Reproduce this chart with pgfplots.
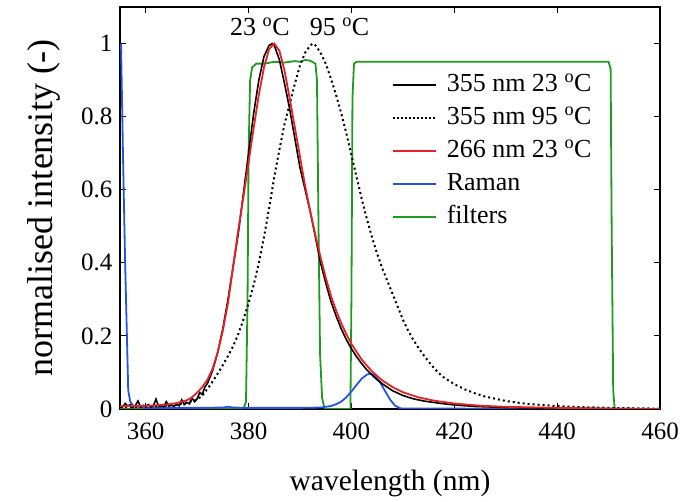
\documentclass[border=0pt]{standalone}
\usepackage{fontspec}
\setmainfont{Liberation Serif}
\newfontfamily\tickfont{Liberation Serif}
\usepackage{pgfplots}
\pgfplotsset{compat=1.18}
\definecolor{cred}{RGB}{232,32,36}
\definecolor{cblue}{RGB}{36,84,230}
\definecolor{cgreen}{RGB}{30,155,30}
\pgfplotsset{
  mylegline/.style={legend image code/.code={\draw[##1] (0pt,0pt) -- (43pt,0pt);}},
}
\begin{document}
\begin{tikzpicture}
\begin{axis}[
  scale only axis, width=540pt, height=402pt,
  xmin=355, xmax=460, ymin=0, ymax=1.1,
  xtick={360,380,400,420,440,460},
  xticklabels={360,380,400,420,440,460},
  ytick={0,0.2,0.4,0.6,0.8,1},
  yticklabels={0,0.2,0.4,0.6,0.8,1},
  tick align=inside, major tick length=6pt,
  every tick/.style={black, line width=1pt},
  axis line style={line width=1.3pt},
  xticklabel style={font=\tickfont\fontsize{25}{25}\selectfont, yshift=-10pt},
  yticklabel style={font=\tickfont\fontsize{25}{25}\selectfont, xshift=-4pt},
  xlabel={wavelength (nm)}, ylabel={normalised intensity (-)},
  xlabel style={font=\fontsize{29.5}{30}\selectfont, yshift=-24pt},
  ylabel style={font=\fontsize{36}{36}\selectfont, yshift=14pt},
  legend cell align=left,
  legend style={draw=none, fill=none, inner sep=0pt,
    at={(0.5037,0.836)}, anchor=north west,
    font=\fontsize{26}{26}\selectfont,
    nodes={inner sep=0pt, text height=18pt, text depth=6pt},
    row sep=9pt, column sep=10pt},
]
\addlegendimage{mylegline, black, line width=1.6pt}
\addlegendentry{355 nm 23 \textsuperscript{o}C}
\addlegendimage{mylegline, black, line width=1.6pt, dash pattern=on 1.6pt off 2.4pt}
\addlegendentry{355 nm 95 \textsuperscript{o}C}
\addlegendimage{mylegline, cred, line width=1.6pt}
\addlegendentry{266 nm 23 \textsuperscript{o}C}
\addlegendimage{mylegline, cblue, line width=1.6pt}
\addlegendentry{Raman}
\addlegendimage{mylegline, cgreen, line width=1.6pt}
\addlegendentry{filters}

% filters
\addplot[cgreen, line width=1.8pt, forget plot] coordinates {
(355,0) (379.0,0) (379.5,0.02) (379.8,0.3) (380.0,0.7) (380.3,0.9) (380.7,0.935)
(381.5,0.945) (383,0.945) (385,0.95) (387,0.948) (389,0.952) (390,0.95) (391,0.955)
(392,0.953) (393,0.945) (393.3,0.9) (393.6,0.5) (393.9,0.15) (394.3,0.03) (394.8,0)
(399.8,0) (400.0,0.3) (400.2,0.85) (400.5,0.945) (401,0.95) (450,0.95) (450.4,0.93)
(450.6,0.5) (450.9,0.05) (451.2,0) (460,0)};

% Raman
\addplot[cblue, line width=1.8pt, forget plot] coordinates {
(355.2,1.0) (355.6,0.68) (356.0,0.4) (356.6,0.05) (357.0,0.02) (357.6,0.008)
(360,0.003) (370,0.003) (375,0.004) (376,0.006) (377,0.004) (380,0.003) (390,0.003)
(394,0.004) (396,0.008) (397,0.013) (398,0.02) (399,0.032) (400,0.048) (401,0.066)
(402,0.083) (403,0.094) (403.7,0.097) (404.5,0.092) (405.5,0.075) (406.5,0.05)
(407.5,0.026) (408.5,0.009) (409.5,0.002) (410,0.001) (420,0.001) (460,0)};

% 355 nm 95 C
\addplot[black, line width=2pt, dash pattern=on 2pt off 3pt, forget plot] coordinates {
(355,0.005) (360,0.006) (364,0.009) (366,0.012) (368,0.018) (370,0.025) (371,0.037)
(372,0.055) (373,0.075) (374,0.097) (375,0.12) (376,0.145) (377,0.172) (378,0.205)
(379,0.245) (380,0.29) (381,0.34) (382,0.40) (383,0.47) (384,0.55) (385,0.635)
(386,0.71) (387,0.78) (388,0.835) (389,0.89) (390,0.94) (391,0.975) (392,0.995)
(392.5,1.0) (393,0.995) (394,0.975) (395,0.945) (396,0.905) (397,0.86) (398,0.81)
(399,0.755) (400,0.695) (401,0.635) (402,0.575) (403,0.52) (404,0.47) (405,0.425)
(406,0.385) (407,0.35) (408,0.315) (409,0.28) (410,0.245) (411,0.215) (412,0.19)
(413,0.168) (414,0.148) (415,0.13) (416,0.113) (417,0.098) (418,0.086) (420,0.068)
(422,0.054) (424,0.043) (426,0.034) (428,0.028) (430,0.022) (433,0.016) (436,0.012)
(440,0.008) (445,0.005) (450,0.003) (455,0.002) (460,0.001)};

% 355 nm 23 C
\addplot[black, line width=1.6pt, forget plot] coordinates {
(355.0,0.010) (355.5,0.005) (356.0,0.015) (356.5,0.008) (357.0,0.012) (357.5,0.004)
(358.0,0.010) (358.5,0.022) (359.0,0.006) (359.5,0.010) (360.0,0.008) (360.5,0.012)
(361.0,0.005) (361.5,0.009) (362.0,0.027) (362.5,0.007) (363.0,0.010) (363.5,0.006)
(364.0,0.020) (364.5,0.008) (365.0,0.011) (365.5,0.007) (366.0,0.013) (366.5,0.009)
(367.0,0.025) (367.5,0.012) (368.0,0.018) (368.5,0.014) (369.0,0.030) (369.5,0.020)
(370.0,0.028) (370.5,0.045) (371.0,0.040) (371.5,0.060) (372.0,0.070) (373.0,0.105)
(374.0,0.155) (375.0,0.22) (376.0,0.30) (377.0,0.39) (378.0,0.48) (379.0,0.59)
(380.0,0.70) (381.0,0.81) (382.0,0.90) (383.0,0.965) (384.0,0.995) (384.6,1.0)
(385.0,0.995) (386.0,0.955) (387.0,0.89) (388.0,0.82) (389.0,0.74) (390.0,0.66)
(391.0,0.60) (392.0,0.54) (393.0,0.47) (394.0,0.40) (395.0,0.345) (396.0,0.295)
(397.0,0.255) (398.0,0.22) (399.0,0.19) (400.0,0.165) (401.0,0.143) (402.0,0.124)
(403.0,0.107) (404.0,0.093) (405.0,0.080) (406.0,0.069) (408.0,0.050) (410.0,0.037)
(412.0,0.028) (414.0,0.022) (417.0,0.016) (420.0,0.011) (424.0,0.007) (430.0,0.004)
(440.0,0.002) (450.0,0.001) (460.0,0.0)};

% 266 nm 23 C
\addplot[cred, line width=1.8pt, forget plot] coordinates {
(355,0.008) (358,0.008) (361,0.009) (364,0.012) (366,0.016) (368,0.024) (369,0.032)
(370,0.045) (371,0.060) (372,0.080) (373,0.110) (374,0.155) (375,0.215) (376,0.29)
(377,0.39) (378,0.49) (379,0.58) (380,0.675) (381,0.77) (382,0.86) (383,0.935)
(384,0.985) (385,1.0) (386,0.98) (387,0.925) (388,0.85) (389,0.77) (390,0.69)
(391,0.61) (392,0.54) (393,0.475) (394,0.415) (395,0.36) (396,0.31) (397,0.27)
(398,0.235) (399,0.205) (400,0.178) (402,0.135) (404,0.103) (406,0.078) (408,0.060)
(410,0.046) (413,0.032) (416,0.023) (420,0.015) (425,0.009) (430,0.006) (440,0.003)
(450,0.001) (460,0)};

\node[font=\fontsize{26}{26}\selectfont] at (axis cs:382.2,1.045) {23 \textsuperscript{o}C};
\node[font=\fontsize{26}{26}\selectfont] at (axis cs:397.7,1.045) {95 \textsuperscript{o}C};
\end{axis}
\pgfresetboundingbox
\useasboundingbox ([shift={(-120pt,-93pt)}]current axis.south west) rectangle ([shift={(23pt,7pt)}]current axis.north east);
\end{tikzpicture}
\end{document}
